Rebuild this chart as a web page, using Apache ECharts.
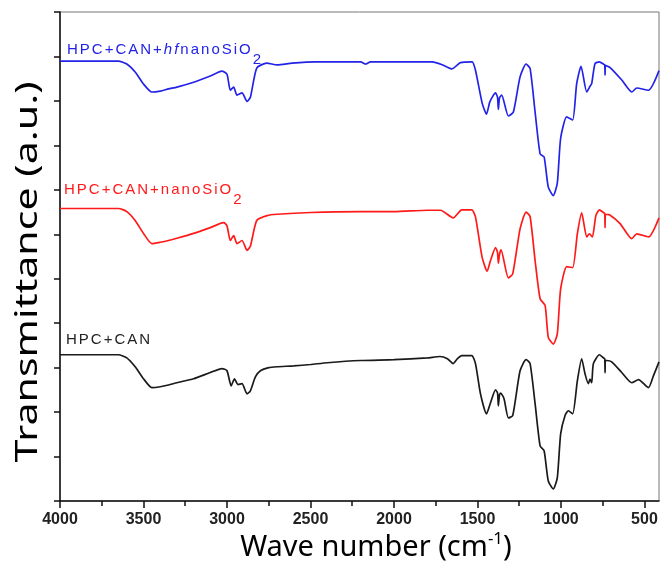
<!DOCTYPE html>
<html><head><meta charset="utf-8">
<script src="https://cdn.jsdelivr.net/npm/echarts@6/dist/echarts.min.js"></script>
<style>html,body{margin:0;padding:0;background:#fff}#c{width:660px;height:575px}</style>
</head><body><div id="c"></div>
<script>
// ---- data ----
const xMajorTicks = [4000, 3500, 3000, 2500, 2000, 1500, 1000, 500];
const xMinorTicks = [3750, 3250, 2750, 2250, 1750, 1250, 750];
const seriesNames = ['HPC+CAN+hfnanoSiO2', 'HPC+CAN+nanoSiO2', 'HPC+CAN'];

const blueWn = [4000,3650,3600,3550,3500,3450,3400,3350,3300,3200,3100,3030,3000,2980,2960,2940,2910,2880,2860,2822,2762,2700,2610,2470,2200,2170,2140,1770,1715,1655,1602,1532,1512,1472,1446,1426,1392,1380,1375,1368,1355,1315,1285,1245,1209,1185,1155,1125,1101,1076,1046,1022,1002,966,930,906,880,846,826,816,796,770,746,738,736,734,706,636,576,546,476,413];
const blueT  = [98.95,98.95,98.3,96.5,93.8,92.0,92.2,92.7,93.1,94.2,95.6,96.7,96.0,92.4,93.1,91.3,91.8,89.9,90.8,97.4,98.5,98.1,98.5,98.8,98.8,98.3,98.8,98.8,98.2,97.2,98.6,98.8,96.9,89.5,87.0,89.8,91.8,90.8,88.1,90.7,91.3,86.6,87.5,95.4,98.3,97.3,87.5,78.1,77.4,70.6,68.7,71.5,81.6,86.4,85.7,93.9,97.8,92.0,93.3,93.9,98.4,98.8,98.3,98.1,95.8,98.0,97.5,94.7,92.0,92.9,92.4,96.8];

const redWn = [4000,3650,3600,3550,3500,3450,3400,3350,3300,3200,3100,3020,3000,2980,2960,2940,2910,2880,2860,2822,2760,2700,2500,2200,2000,1800,1722,1645,1594,1534,1512,1472,1442,1422,1392,1380,1375,1368,1359,1315,1289,1245,1209,1185,1155,1125,1095,1076,1046,1022,1002,966,930,902,876,846,830,812,791,770,746,738,736,734,710,646,576,546,476,413];
const redT  = [65.8,65.8,65.1,63.1,60.2,57.9,58.2,58.6,59.1,60.2,61.5,62.6,61.9,58.6,59.7,57.9,58.6,56.4,57.3,63.1,64.2,64.5,64.9,65.1,65.1,65.4,65.4,63.7,65.5,65.5,63.9,54.8,51.7,54.1,57.0,55.9,53.5,55.5,56.5,50.2,51.1,61.2,65.0,64.0,54.1,45.5,44.0,36.8,35.3,37.6,47.7,52.7,52.5,60.1,64.8,59.4,60.1,59.4,64.2,65.5,64.9,64.7,61.5,64.5,64.4,62.4,59.0,60.1,59.4,63.7];

const blackWn = [4000,3650,3600,3550,3500,3450,3400,3350,3300,3200,3100,3030,3000,2975,2955,2935,2910,2880,2860,2830,2800,2750,2700,2600,2500,2400,2200,2000,1800,1725,1680,1646,1620,1594,1534,1512,1482,1446,1422,1392,1380,1375,1368,1361,1341,1315,1289,1245,1209,1185,1155,1125,1101,1076,1046,1022,1002,976,956,930,902,876,856,836,826,816,806,770,746,738,736,734,726,696,636,576,536,476,446,413];
const blackT  = [32.9,32.9,32.2,30.2,27.5,25.5,25.7,26.1,26.6,27.5,28.9,29.8,29.3,25.9,27.5,26.2,26.4,24.1,24.8,27.9,29.3,30.0,30.2,30.4,30.7,31.1,31.6,31.8,32.2,32.5,32.0,30.9,32.0,32.7,32.7,30.9,24.1,19.6,22.1,25.0,24.3,21.4,23.9,24.3,23.0,18.7,19.2,29.3,31.8,30.9,21.9,12.4,11.3,4.5,2.7,5.2,15.1,19.2,20.3,19.6,27.0,32.0,28.6,26.4,27.4,26.6,30.9,32.9,32.2,32.0,28.9,31.6,31.6,31.3,28.9,26.6,27.3,25.5,28.2,31.3];

// ---- chart ----
function pairs(w, t) { return w.map((x, i) => [x, t[i]]); }
function spaced(str, style) { return str.split('').map(c => '{' + style + '|' + c + '}').join(''); }

const labelFont = 'Liberation Sans';
function labelRich(color) {
  return {
    n: { fontFamily: labelFont, fontSize: 15, fill: color, color: color, padding: [0, 2, 0, 0] },
    i: { fontFamily: labelFont, fontSize: 15, fontStyle: 'italic', fill: color, color: color, padding: [0, 2, 0, 0] },
    s: { fontFamily: labelFont, fontSize: 15, fill: color, color: color, padding: [20, 0, 0, 0] }
  };
}

const chart = echarts.init(document.getElementById('c'), null, { renderer: 'canvas' });
const axisColor = '#111';
const option = {
  animation: false,
  backgroundColor: '#fff',
  grid: { left: 60, right: 1, top: 12, bottom: 74, show: true, borderColor: '#777', borderWidth: 1,
          containLabel: false, outerBoundsMode: 'none' },
  xAxis: [{
    type: 'value', inverse: true, min: 413, max: 4000,
    axisLine: { show: true, onZero: false, lineStyle: { color: axisColor, width: 1.5 } },
    axisTick: { show: true, inside: false, length: 7, customValues: xMajorTicks, lineStyle: { color: axisColor, width: 1.5 } },
    axisLabel: { customValues: xMajorTicks, margin: 11, fontFamily: labelFont, fontWeight: 'bold', fontSize: 16, color: '#222',
                 formatter: v => String(v) },
    splitLine: { show: false }
  }, {
    type: 'value', inverse: true, min: 413, max: 4000, position: 'bottom',
    axisLine: { show: false, onZero: false },
    axisTick: { show: true, inside: false, length: 5, customValues: xMinorTicks, lineStyle: { color: axisColor, width: 1.5 } },
    axisLabel: { show: false },
    splitLine: { show: false }
  }],
  yAxis: {
    type: 'value', min: 0, max: 110, interval: 10,
    axisLine: { show: true, onZero: false, lineStyle: { color: axisColor, width: 1.5 } },
    axisTick: { show: true, inside: false, length: 6, lineStyle: { color: axisColor, width: 1.5 } },
    axisLabel: { show: false },
    splitLine: { show: false }
  },
  series: [
    { name: seriesNames[0], type: 'line', data: pairs(blueWn, blueT), showSymbol: false, smooth: 0.2, lineStyle: { color: '#2323e8', width: 1.7 }, itemStyle: { color: '#2323e8' } },
    { name: seriesNames[1], type: 'line', data: pairs(redWn, redT), showSymbol: false, smooth: 0.2, lineStyle: { color: '#ff1a1a', width: 1.7 }, itemStyle: { color: '#ff1a1a' } },
    { name: seriesNames[2], type: 'line', data: pairs(blackWn, blackT), showSymbol: false, smooth: 0.2, lineStyle: { color: '#1a1a1a', width: 1.7 }, itemStyle: { color: '#1a1a1a' } }
  ],
  graphic: [
    { type: 'text', left: 67, top: 42, z: 10,
      style: { text: spaced('HPC+CAN+', 'n') + spaced('hf', 'i') + spaced('nanoSiO', 'n') + '{s|2}', rich: labelRich('#2323e8') } },
    { type: 'text', left: 64, top: 182, z: 10,
      style: { text: spaced('HPC+CAN+nanoSiO', 'n') + '{s|2}', rich: labelRich('#ff1a1a') } },
    { type: 'text', left: 66, top: 332, z: 10,
      style: { text: spaced('HPC+CAN', 'n'), rich: labelRich('#222') } },
    { type: 'text', x: 376, y: 548, z: 10,
      style: { text: '{t|Wave number (cm}{u|-1}{t|)}', align: 'center', verticalAlign: 'middle',
        rich: { t: { fontFamily: 'Noto Sans', fontSize: 29, fill: '#000', color: '#000' },
                u: { fontFamily: 'Noto Sans', fontSize: 17, fill: '#000', color: '#000', padding: [0, 0, 18, 0] } } } },
    { type: 'text', x: 28, y: 272, rotation: Math.PI / 2, scaleX: 1.37, z: 10,
      style: { text: 'Transmittance (a.u.)', font: '30px "Noto Sans"', fill: '#000', align: 'center', verticalAlign: 'middle' } }
  ]
};
chart.setOption(option);
</script>
</body></html>
